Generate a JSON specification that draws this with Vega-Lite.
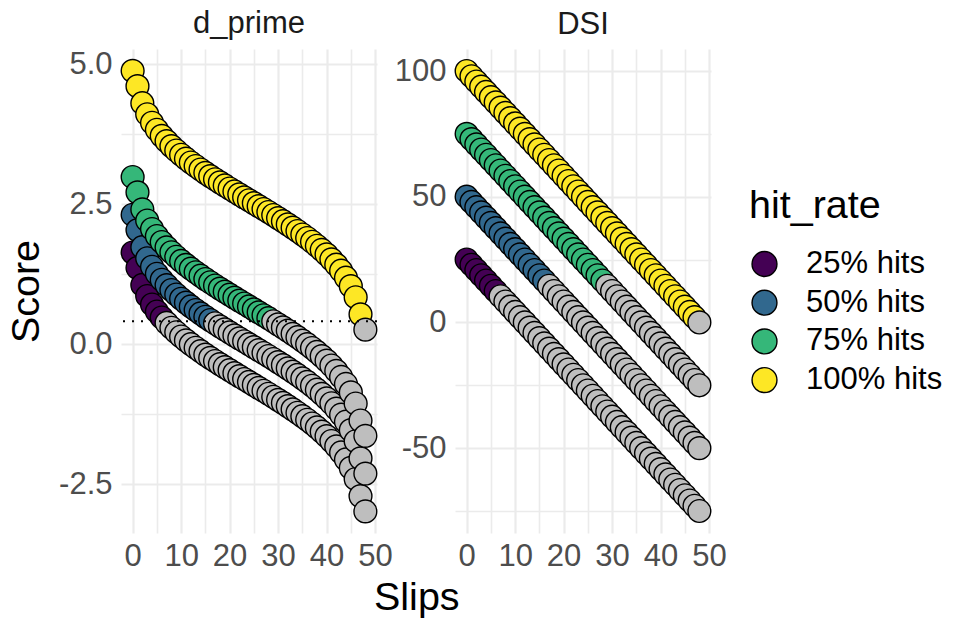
{
  "$schema": "https://vega.github.io/schema/vega-lite/v6.json",
  "background": "white",
  "padding": {"left": 6, "top": 8, "right": 5, "bottom": 5},
  "config": {
    "font": "Liberation Sans",
    "view": {"stroke": null},
    "axis": {"domain": false, "ticks": false, "grid": true, "gridColor": "#EBEBEB", "labelFontSize": 31, "labelColor": "#4D4D4D", "titleFontSize": 39.5, "titleFontWeight": "normal", "titleColor": "black", "labelPadding": 9},
    "legend": {"titleFontSize": 39.5, "titleFontWeight": "normal", "titleColor": "black", "labelFontSize": 31, "labelColor": "black", "symbolType": "circle", "symbolSize": 620, "symbolStrokeColor": "black", "symbolStrokeWidth": 1.4, "symbolOpacity": 1, "rowPadding": 6.7, "labelOffset": 26, "titlePadding": 22, "padding": 0}
  },
  "spacing": 1,
  "datasets": {
    "thr": [{"threshold": 0.41}],
    "pts": [
      {"slips":0,"hit_rate":"25% hits","d_prime":1.636,"dsi":25},
      {"slips":1,"hit_rate":"25% hits","d_prime":1.363,"dsi":22.92},
      {"slips":2,"hit_rate":"25% hits","d_prime":1.058,"dsi":20.83},
      {"slips":3,"hit_rate":"25% hits","d_prime":0.86,"dsi":18.75},
      {"slips":4,"hit_rate":"25% hits","d_prime":0.709,"dsi":16.67},
      {"slips":5,"hit_rate":"25% hits","d_prime":0.584,"dsi":14.58},
      {"slips":6,"hit_rate":"25% hits","d_prime":0.476,"dsi":12.5},
      {"slips":7,"hit_rate":"25% hits","d_prime":0.381,"dsi":10.42},
      {"slips":8,"hit_rate":"25% hits","d_prime":0.293,"dsi":8.33},
      {"slips":9,"hit_rate":"25% hits","d_prime":0.213,"dsi":6.25},
      {"slips":10,"hit_rate":"25% hits","d_prime":0.138,"dsi":4.17},
      {"slips":11,"hit_rate":"25% hits","d_prime":0.068,"dsi":2.08},
      {"slips":12,"hit_rate":"25% hits","d_prime":0,"dsi":0},
      {"slips":13,"hit_rate":"25% hits","d_prime":-0.063,"dsi":-2.08},
      {"slips":14,"hit_rate":"25% hits","d_prime":-0.125,"dsi":-4.17},
      {"slips":15,"hit_rate":"25% hits","d_prime":-0.185,"dsi":-6.25},
      {"slips":16,"hit_rate":"25% hits","d_prime":-0.243,"dsi":-8.33},
      {"slips":17,"hit_rate":"25% hits","d_prime":-0.3,"dsi":-10.42},
      {"slips":18,"hit_rate":"25% hits","d_prime":-0.355,"dsi":-12.5},
      {"slips":19,"hit_rate":"25% hits","d_prime":-0.41,"dsi":-14.58},
      {"slips":20,"hit_rate":"25% hits","d_prime":-0.464,"dsi":-16.67},
      {"slips":21,"hit_rate":"25% hits","d_prime":-0.517,"dsi":-18.75},
      {"slips":22,"hit_rate":"25% hits","d_prime":-0.569,"dsi":-20.83},
      {"slips":23,"hit_rate":"25% hits","d_prime":-0.622,"dsi":-22.92},
      {"slips":24,"hit_rate":"25% hits","d_prime":-0.674,"dsi":-25},
      {"slips":25,"hit_rate":"25% hits","d_prime":-0.726,"dsi":-27.08},
      {"slips":26,"hit_rate":"25% hits","d_prime":-0.779,"dsi":-29.17},
      {"slips":27,"hit_rate":"25% hits","d_prime":-0.831,"dsi":-31.25},
      {"slips":28,"hit_rate":"25% hits","d_prime":-0.884,"dsi":-33.33},
      {"slips":29,"hit_rate":"25% hits","d_prime":-0.938,"dsi":-35.42},
      {"slips":30,"hit_rate":"25% hits","d_prime":-0.993,"dsi":-37.5},
      {"slips":31,"hit_rate":"25% hits","d_prime":-1.048,"dsi":-39.58},
      {"slips":32,"hit_rate":"25% hits","d_prime":-1.105,"dsi":-41.67},
      {"slips":33,"hit_rate":"25% hits","d_prime":-1.163,"dsi":-43.75},
      {"slips":34,"hit_rate":"25% hits","d_prime":-1.223,"dsi":-45.83},
      {"slips":35,"hit_rate":"25% hits","d_prime":-1.285,"dsi":-47.92},
      {"slips":36,"hit_rate":"25% hits","d_prime":-1.348,"dsi":-50},
      {"slips":37,"hit_rate":"25% hits","d_prime":-1.416,"dsi":-52.08},
      {"slips":38,"hit_rate":"25% hits","d_prime":-1.486,"dsi":-54.17},
      {"slips":39,"hit_rate":"25% hits","d_prime":-1.561,"dsi":-56.25},
      {"slips":40,"hit_rate":"25% hits","d_prime":-1.641,"dsi":-58.33},
      {"slips":41,"hit_rate":"25% hits","d_prime":-1.729,"dsi":-60.42},
      {"slips":42,"hit_rate":"25% hits","d_prime":-1.824,"dsi":-62.5},
      {"slips":43,"hit_rate":"25% hits","d_prime":-1.932,"dsi":-64.58},
      {"slips":44,"hit_rate":"25% hits","d_prime":-2.057,"dsi":-66.67},
      {"slips":45,"hit_rate":"25% hits","d_prime":-2.208,"dsi":-68.75},
      {"slips":46,"hit_rate":"25% hits","d_prime":-2.406,"dsi":-70.83},
      {"slips":47,"hit_rate":"25% hits","d_prime":-2.711,"dsi":-72.92},
      {"slips":48,"hit_rate":"25% hits","d_prime":-2.984,"dsi":-75},
      {"slips":0,"hit_rate":"50% hits","d_prime":2.31,"dsi":50},
      {"slips":1,"hit_rate":"50% hits","d_prime":2.037,"dsi":47.92},
      {"slips":2,"hit_rate":"50% hits","d_prime":1.732,"dsi":45.83},
      {"slips":3,"hit_rate":"50% hits","d_prime":1.534,"dsi":43.75},
      {"slips":4,"hit_rate":"50% hits","d_prime":1.383,"dsi":41.67},
      {"slips":5,"hit_rate":"50% hits","d_prime":1.258,"dsi":39.58},
      {"slips":6,"hit_rate":"50% hits","d_prime":1.15,"dsi":37.5},
      {"slips":7,"hit_rate":"50% hits","d_prime":1.055,"dsi":35.42},
      {"slips":8,"hit_rate":"50% hits","d_prime":0.967,"dsi":33.33},
      {"slips":9,"hit_rate":"50% hits","d_prime":0.887,"dsi":31.25},
      {"slips":10,"hit_rate":"50% hits","d_prime":0.812,"dsi":29.17},
      {"slips":11,"hit_rate":"50% hits","d_prime":0.742,"dsi":27.08},
      {"slips":12,"hit_rate":"50% hits","d_prime":0.674,"dsi":25},
      {"slips":13,"hit_rate":"50% hits","d_prime":0.611,"dsi":22.92},
      {"slips":14,"hit_rate":"50% hits","d_prime":0.549,"dsi":20.83},
      {"slips":15,"hit_rate":"50% hits","d_prime":0.489,"dsi":18.75},
      {"slips":16,"hit_rate":"50% hits","d_prime":0.431,"dsi":16.67},
      {"slips":17,"hit_rate":"50% hits","d_prime":0.374,"dsi":14.58},
      {"slips":18,"hit_rate":"50% hits","d_prime":0.319,"dsi":12.5},
      {"slips":19,"hit_rate":"50% hits","d_prime":0.264,"dsi":10.42},
      {"slips":20,"hit_rate":"50% hits","d_prime":0.21,"dsi":8.33},
      {"slips":21,"hit_rate":"50% hits","d_prime":0.157,"dsi":6.25},
      {"slips":22,"hit_rate":"50% hits","d_prime":0.105,"dsi":4.17},
      {"slips":23,"hit_rate":"50% hits","d_prime":0.052,"dsi":2.08},
      {"slips":24,"hit_rate":"50% hits","d_prime":0,"dsi":0},
      {"slips":25,"hit_rate":"50% hits","d_prime":-0.052,"dsi":-2.08},
      {"slips":26,"hit_rate":"50% hits","d_prime":-0.105,"dsi":-4.17},
      {"slips":27,"hit_rate":"50% hits","d_prime":-0.157,"dsi":-6.25},
      {"slips":28,"hit_rate":"50% hits","d_prime":-0.21,"dsi":-8.33},
      {"slips":29,"hit_rate":"50% hits","d_prime":-0.264,"dsi":-10.42},
      {"slips":30,"hit_rate":"50% hits","d_prime":-0.319,"dsi":-12.5},
      {"slips":31,"hit_rate":"50% hits","d_prime":-0.374,"dsi":-14.58},
      {"slips":32,"hit_rate":"50% hits","d_prime":-0.431,"dsi":-16.67},
      {"slips":33,"hit_rate":"50% hits","d_prime":-0.489,"dsi":-18.75},
      {"slips":34,"hit_rate":"50% hits","d_prime":-0.549,"dsi":-20.83},
      {"slips":35,"hit_rate":"50% hits","d_prime":-0.611,"dsi":-22.92},
      {"slips":36,"hit_rate":"50% hits","d_prime":-0.674,"dsi":-25},
      {"slips":37,"hit_rate":"50% hits","d_prime":-0.742,"dsi":-27.08},
      {"slips":38,"hit_rate":"50% hits","d_prime":-0.812,"dsi":-29.17},
      {"slips":39,"hit_rate":"50% hits","d_prime":-0.887,"dsi":-31.25},
      {"slips":40,"hit_rate":"50% hits","d_prime":-0.967,"dsi":-33.33},
      {"slips":41,"hit_rate":"50% hits","d_prime":-1.055,"dsi":-35.42},
      {"slips":42,"hit_rate":"50% hits","d_prime":-1.15,"dsi":-37.5},
      {"slips":43,"hit_rate":"50% hits","d_prime":-1.258,"dsi":-39.58},
      {"slips":44,"hit_rate":"50% hits","d_prime":-1.383,"dsi":-41.67},
      {"slips":45,"hit_rate":"50% hits","d_prime":-1.534,"dsi":-43.75},
      {"slips":46,"hit_rate":"50% hits","d_prime":-1.732,"dsi":-45.83},
      {"slips":47,"hit_rate":"50% hits","d_prime":-2.037,"dsi":-47.92},
      {"slips":48,"hit_rate":"50% hits","d_prime":-2.31,"dsi":-50},
      {"slips":0,"hit_rate":"75% hits","d_prime":2.984,"dsi":75},
      {"slips":1,"hit_rate":"75% hits","d_prime":2.711,"dsi":72.92},
      {"slips":2,"hit_rate":"75% hits","d_prime":2.406,"dsi":70.83},
      {"slips":3,"hit_rate":"75% hits","d_prime":2.208,"dsi":68.75},
      {"slips":4,"hit_rate":"75% hits","d_prime":2.057,"dsi":66.67},
      {"slips":5,"hit_rate":"75% hits","d_prime":1.932,"dsi":64.58},
      {"slips":6,"hit_rate":"75% hits","d_prime":1.824,"dsi":62.5},
      {"slips":7,"hit_rate":"75% hits","d_prime":1.729,"dsi":60.42},
      {"slips":8,"hit_rate":"75% hits","d_prime":1.641,"dsi":58.33},
      {"slips":9,"hit_rate":"75% hits","d_prime":1.561,"dsi":56.25},
      {"slips":10,"hit_rate":"75% hits","d_prime":1.486,"dsi":54.17},
      {"slips":11,"hit_rate":"75% hits","d_prime":1.416,"dsi":52.08},
      {"slips":12,"hit_rate":"75% hits","d_prime":1.348,"dsi":50},
      {"slips":13,"hit_rate":"75% hits","d_prime":1.285,"dsi":47.92},
      {"slips":14,"hit_rate":"75% hits","d_prime":1.223,"dsi":45.83},
      {"slips":15,"hit_rate":"75% hits","d_prime":1.163,"dsi":43.75},
      {"slips":16,"hit_rate":"75% hits","d_prime":1.105,"dsi":41.67},
      {"slips":17,"hit_rate":"75% hits","d_prime":1.048,"dsi":39.58},
      {"slips":18,"hit_rate":"75% hits","d_prime":0.993,"dsi":37.5},
      {"slips":19,"hit_rate":"75% hits","d_prime":0.938,"dsi":35.42},
      {"slips":20,"hit_rate":"75% hits","d_prime":0.884,"dsi":33.33},
      {"slips":21,"hit_rate":"75% hits","d_prime":0.831,"dsi":31.25},
      {"slips":22,"hit_rate":"75% hits","d_prime":0.779,"dsi":29.17},
      {"slips":23,"hit_rate":"75% hits","d_prime":0.726,"dsi":27.08},
      {"slips":24,"hit_rate":"75% hits","d_prime":0.674,"dsi":25},
      {"slips":25,"hit_rate":"75% hits","d_prime":0.622,"dsi":22.92},
      {"slips":26,"hit_rate":"75% hits","d_prime":0.569,"dsi":20.83},
      {"slips":27,"hit_rate":"75% hits","d_prime":0.517,"dsi":18.75},
      {"slips":28,"hit_rate":"75% hits","d_prime":0.464,"dsi":16.67},
      {"slips":29,"hit_rate":"75% hits","d_prime":0.41,"dsi":14.58},
      {"slips":30,"hit_rate":"75% hits","d_prime":0.355,"dsi":12.5},
      {"slips":31,"hit_rate":"75% hits","d_prime":0.3,"dsi":10.42},
      {"slips":32,"hit_rate":"75% hits","d_prime":0.243,"dsi":8.33},
      {"slips":33,"hit_rate":"75% hits","d_prime":0.185,"dsi":6.25},
      {"slips":34,"hit_rate":"75% hits","d_prime":0.125,"dsi":4.17},
      {"slips":35,"hit_rate":"75% hits","d_prime":0.063,"dsi":2.08},
      {"slips":36,"hit_rate":"75% hits","d_prime":0,"dsi":0},
      {"slips":37,"hit_rate":"75% hits","d_prime":-0.068,"dsi":-2.08},
      {"slips":38,"hit_rate":"75% hits","d_prime":-0.138,"dsi":-4.17},
      {"slips":39,"hit_rate":"75% hits","d_prime":-0.213,"dsi":-6.25},
      {"slips":40,"hit_rate":"75% hits","d_prime":-0.293,"dsi":-8.33},
      {"slips":41,"hit_rate":"75% hits","d_prime":-0.381,"dsi":-10.42},
      {"slips":42,"hit_rate":"75% hits","d_prime":-0.476,"dsi":-12.5},
      {"slips":43,"hit_rate":"75% hits","d_prime":-0.584,"dsi":-14.58},
      {"slips":44,"hit_rate":"75% hits","d_prime":-0.709,"dsi":-16.67},
      {"slips":45,"hit_rate":"75% hits","d_prime":-0.86,"dsi":-18.75},
      {"slips":46,"hit_rate":"75% hits","d_prime":-1.058,"dsi":-20.83},
      {"slips":47,"hit_rate":"75% hits","d_prime":-1.363,"dsi":-22.92},
      {"slips":48,"hit_rate":"75% hits","d_prime":-1.636,"dsi":-25},
      {"slips":0,"hit_rate":"100% hits","d_prime":4.88,"dsi":100},
      {"slips":1,"hit_rate":"100% hits","d_prime":4.607,"dsi":97.92},
      {"slips":2,"hit_rate":"100% hits","d_prime":4.302,"dsi":95.83},
      {"slips":3,"hit_rate":"100% hits","d_prime":4.104,"dsi":93.75},
      {"slips":4,"hit_rate":"100% hits","d_prime":3.953,"dsi":91.67},
      {"slips":5,"hit_rate":"100% hits","d_prime":3.828,"dsi":89.58},
      {"slips":6,"hit_rate":"100% hits","d_prime":3.72,"dsi":87.5},
      {"slips":7,"hit_rate":"100% hits","d_prime":3.625,"dsi":85.42},
      {"slips":8,"hit_rate":"100% hits","d_prime":3.537,"dsi":83.33},
      {"slips":9,"hit_rate":"100% hits","d_prime":3.457,"dsi":81.25},
      {"slips":10,"hit_rate":"100% hits","d_prime":3.382,"dsi":79.17},
      {"slips":11,"hit_rate":"100% hits","d_prime":3.312,"dsi":77.08},
      {"slips":12,"hit_rate":"100% hits","d_prime":3.244,"dsi":75},
      {"slips":13,"hit_rate":"100% hits","d_prime":3.181,"dsi":72.92},
      {"slips":14,"hit_rate":"100% hits","d_prime":3.119,"dsi":70.83},
      {"slips":15,"hit_rate":"100% hits","d_prime":3.059,"dsi":68.75},
      {"slips":16,"hit_rate":"100% hits","d_prime":3.001,"dsi":66.67},
      {"slips":17,"hit_rate":"100% hits","d_prime":2.944,"dsi":64.58},
      {"slips":18,"hit_rate":"100% hits","d_prime":2.889,"dsi":62.5},
      {"slips":19,"hit_rate":"100% hits","d_prime":2.834,"dsi":60.42},
      {"slips":20,"hit_rate":"100% hits","d_prime":2.78,"dsi":58.33},
      {"slips":21,"hit_rate":"100% hits","d_prime":2.727,"dsi":56.25},
      {"slips":22,"hit_rate":"100% hits","d_prime":2.675,"dsi":54.17},
      {"slips":23,"hit_rate":"100% hits","d_prime":2.622,"dsi":52.08},
      {"slips":24,"hit_rate":"100% hits","d_prime":2.57,"dsi":50},
      {"slips":25,"hit_rate":"100% hits","d_prime":2.518,"dsi":47.92},
      {"slips":26,"hit_rate":"100% hits","d_prime":2.465,"dsi":45.83},
      {"slips":27,"hit_rate":"100% hits","d_prime":2.413,"dsi":43.75},
      {"slips":28,"hit_rate":"100% hits","d_prime":2.36,"dsi":41.67},
      {"slips":29,"hit_rate":"100% hits","d_prime":2.306,"dsi":39.58},
      {"slips":30,"hit_rate":"100% hits","d_prime":2.251,"dsi":37.5},
      {"slips":31,"hit_rate":"100% hits","d_prime":2.196,"dsi":35.42},
      {"slips":32,"hit_rate":"100% hits","d_prime":2.139,"dsi":33.33},
      {"slips":33,"hit_rate":"100% hits","d_prime":2.081,"dsi":31.25},
      {"slips":34,"hit_rate":"100% hits","d_prime":2.021,"dsi":29.17},
      {"slips":35,"hit_rate":"100% hits","d_prime":1.959,"dsi":27.08},
      {"slips":36,"hit_rate":"100% hits","d_prime":1.896,"dsi":25},
      {"slips":37,"hit_rate":"100% hits","d_prime":1.828,"dsi":22.92},
      {"slips":38,"hit_rate":"100% hits","d_prime":1.758,"dsi":20.83},
      {"slips":39,"hit_rate":"100% hits","d_prime":1.683,"dsi":18.75},
      {"slips":40,"hit_rate":"100% hits","d_prime":1.603,"dsi":16.67},
      {"slips":41,"hit_rate":"100% hits","d_prime":1.515,"dsi":14.58},
      {"slips":42,"hit_rate":"100% hits","d_prime":1.42,"dsi":12.5},
      {"slips":43,"hit_rate":"100% hits","d_prime":1.312,"dsi":10.42},
      {"slips":44,"hit_rate":"100% hits","d_prime":1.187,"dsi":8.33},
      {"slips":45,"hit_rate":"100% hits","d_prime":1.036,"dsi":6.25},
      {"slips":46,"hit_rate":"100% hits","d_prime":0.838,"dsi":4.17},
      {"slips":47,"hit_rate":"100% hits","d_prime":0.533,"dsi":2.08},
      {"slips":48,"hit_rate":"100% hits","d_prime":0.26,"dsi":0}
    ]
  },
  "title": {"text": "Slips", "orient": "bottom", "anchor": "middle", "fontSize": 39.5, "fontWeight": "normal", "color": "black", "offset": 8, "dx": -58},
  "hconcat": [
    {
      "width": 256,
      "height": 484,
      "title": {"text": "d_prime", "fontSize": 31, "fontWeight": "normal", "color": "#1A1A1A", "anchor": "middle", "offset": 8},
      "layer": [
        {
          "data": {"name": "pts"},
          "mark": {"type": "circle", "size": 520, "opacity": 1, "stroke": "black", "strokeWidth": 1.4},
          "encoding": {
            "x": {"field": "slips", "type": "quantitative", "scale": {"domain": [-2.4, 50.4], "nice": false, "zero": false},
                  "axis": {"title": null, "labelPadding": 8, "values": [0, 5, 10, 15, 20, 25, 30, 35, 40, 45, 50], "labelExpr": "datum.value % 10 === 0 ? format(datum.value, 'd') : ''", "gridWidth": {"condition": {"test": "datum.value % 10 === 0", "value": 2.2}, "value": 1.6}}},
            "y": {"field": "d_prime", "type": "quantitative", "scale": {"domain": [-3.37, 5.27], "nice": false, "zero": false},
                  "axis": {"title": "Score", "titlePadding": 12, "values": [-2.5, -1.25, 0, 1.25, 2.5, 3.75, 5], "labelExpr": "abs(datum.value % 2.5) < 0.001 ? replace(format(datum.value, '.1f'), '\u2212', '-') : ''", "gridWidth": {"condition": {"test": "abs(datum.value % 2.5) < 0.001", "value": 2.2}, "value": 1.6}}},
            "fill": {
              "condition": {"test": "datum.d_prime > 0.41", "field": "hit_rate", "type": "nominal",
                "scale": {"domain": ["25% hits", "50% hits", "75% hits", "100% hits"], "range": ["#440154", "#31688E", "#35B779", "#FDE725"]},
                "legend": {"title": "hit_rate", "orient": "none", "legendX": 628, "legendY": 138}},
              "value": "#BEBEBE"
            }
          }
        },
        {
          "data": {"name": "thr"},
          "mark": {"type": "rule", "strokeDash": [2, 7], "strokeWidth": 2, "color": "black"},
          "encoding": {"y": {"field": "threshold", "type": "quantitative"}}
        }
      ]
    },
    {
      "width": 256,
      "height": 484,
      "title": {"text": "DSI", "fontSize": 31, "fontWeight": "normal", "color": "#1A1A1A", "anchor": "middle", "offset": 8},
      "data": {"name": "pts"},
      "mark": {"type": "circle", "size": 520, "opacity": 1, "stroke": "black", "strokeWidth": 1.4},
      "encoding": {
        "x": {"field": "slips", "type": "quantitative", "scale": {"domain": [-2.4, 50.4], "nice": false, "zero": false},
              "axis": {"title": null, "labelPadding": 8, "values": [0, 5, 10, 15, 20, 25, 30, 35, 40, 45, 50], "labelExpr": "datum.value % 10 === 0 ? format(datum.value, 'd') : ''", "gridWidth": {"condition": {"test": "datum.value % 10 === 0", "value": 2.2}, "value": 1.6}}},
        "y": {"field": "dsi", "type": "quantitative", "scale": {"domain": [-83.75, 108.75], "nice": false, "zero": false},
              "axis": {"title": null, "values": [-75, -50, -25, 0, 25, 50, 75, 100], "labelExpr": "datum.value % 50 === 0 ? replace(format(datum.value, 'd'), '\u2212', '-') : ''", "gridWidth": {"condition": {"test": "datum.value % 50 === 0", "value": 2.2}, "value": 1.6}}},
        "fill": {
          "condition": {"test": "datum.d_prime > 0.41", "field": "hit_rate", "type": "nominal",
            "scale": {"domain": ["25% hits", "50% hits", "75% hits", "100% hits"], "range": ["#440154", "#31688E", "#35B779", "#FDE725"]},
            "legend": {"title": "hit_rate", "orient": "none", "legendX": 628, "legendY": 138}},
          "value": "#BEBEBE"
        }
      }
    }
  ],
  "resolve": {"scale": {"y": "independent"}}
}
